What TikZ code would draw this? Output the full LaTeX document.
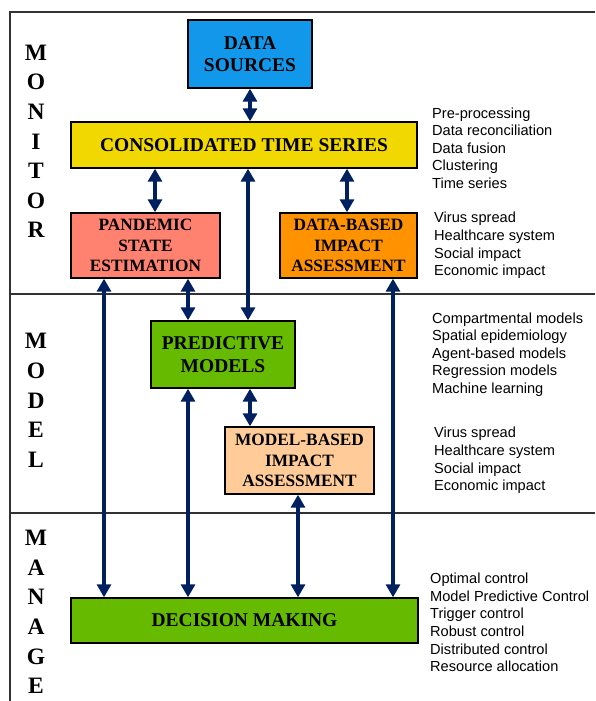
\documentclass[tikz,border=0pt]{standalone}
\usepackage{fontspec}
\setmainfont{Liberation Serif}
\newfontfamily\listfont{Liberation Sans}
\usetikzlibrary{arrows.meta}

\definecolor{sourceblue}{RGB}{17,152,234}
\definecolor{seriesyellow}{RGB}{240,216,0}
\definecolor{statesalmon}{RGB}{255,130,112}
\definecolor{impactorange}{RGB}{255,146,0}
\definecolor{modelgreen}{RGB}{102,187,0}
\definecolor{impactpeach}{RGB}{255,204,153}
\definecolor{linkblue}{RGB}{0,32,96}
\definecolor{framegray}{RGB}{50,50,50}

\begin{document}
\begin{tikzpicture}[x=1pt, y=-1pt,
    box/.style={draw=black, line width=1.4pt, align=center, inner sep=0pt,
        font=\bfseries\fontsize{17.3}{20.5}\selectfont},
    bigbox/.style={box, font=\bfseries\fontsize{19.5}{22}\selectfont},
    link/.style={draw=linkblue, line width=3.2pt,
        {Triangle[width=14pt,length=13pt]}-{Triangle[width=14pt,length=13pt]}},
    phase/.style={align=center, inner sep=0pt,
        font=\bfseries\fontsize{23.5}{29.6}\selectfont},
    items/.style={anchor=west, align=left, inner sep=0pt,
        font=\listfont\fontsize{14.6}{17.6}\selectfont}]
    \useasboundingbox (0,0) rectangle (595,701);

    % frame
    \coordinate (tl) at (10,12);
    \coordinate (tr) at (595,12);
    \coordinate (bl) at (10,701);
    \coordinate (s1l) at (10,294);
    \coordinate (s1r) at (595,294);
    \coordinate (s2l) at (10,513);
    \coordinate (s2r) at (595,513);

    \draw[framegray, line width=1.4pt] (tr) -- (tl) -- (bl);
    \draw[framegray, line width=1.4pt] (s1l) -- (s1r);
    \draw[framegray, line width=1.4pt] (s2l) -- (s2r);

    % phases
    \node[phase] (monitor) at (36,141.5) {M\\O\\N\\I\\T\\O\\R};
    \node[phase] (model) at (36,400.5) {M\\O\\D\\E\\L};
    \node[phase] (manage) at (36,612) {M\\A\\N\\A\\G\\E};

    % boxes
    \node[bigbox, fill=sourceblue, minimum width=124pt, minimum height=68pt] (sources) at (250,54) {DATA\\SOURCES};
    \node[bigbox, fill=seriesyellow, minimum width=346pt, minimum height=46pt] (series) at (244,145) {CONSOLIDATED TIME SERIES};
    \node[box, fill=statesalmon, minimum width=149pt, minimum height=65pt] (state) at (145.5,245.5) {PANDEMIC\\STATE\\ESTIMATION};
    \node[box, fill=impactorange, minimum width=137pt, minimum height=65pt] (dataimpact) at (348.5,245.5) {DATA-BASED\\IMPACT\\ASSESSMENT};
    \node[bigbox, fill=modelgreen, minimum width=144pt, minimum height=67pt,
        font=\bfseries\fontsize{19.5}{23.5}\selectfont] (predict) at (223,354.5) {PREDICTIVE\\MODELS};
    \node[box, fill=impactpeach, minimum width=149pt, minimum height=67pt] (modelimpact) at (299.5,460.5) {MODEL-BASED\\IMPACT\\ASSESSMENT};
    \node[bigbox, fill=modelgreen, minimum width=347pt, minimum height=45pt] (decision) at (244.5,620.5) {DECISION MAKING};

    % columns of the links
    \coordinate (xa) at (104,0);
    \coordinate (xb) at (155,0);
    \coordinate (xc) at (188,0);
    \coordinate (xd) at (248,0);
    \coordinate (xe) at (250,0);
    \coordinate (xf) at (298,0);
    \coordinate (xg) at (347,0);
    \coordinate (xh) at (393,0);

    \draw[link] (sources.south -| xe) -- (series.north -| xe);
    \draw[link] (series.south -| xb) -- (state.north -| xb);
    \draw[link] (series.south -| xg) -- (dataimpact.north -| xg);
    \draw[link] (series.south -| xd) -- (predict.north -| xd);
    \draw[link] (state.south -| xc) -- (predict.north -| xc);
    \draw[link] (predict.south -| xe) -- (modelimpact.north -| xe);
    \draw[link] (state.south -| xa) -- (decision.north -| xa);
    \draw[link] (predict.south -| xc) -- (decision.north -| xc);
    \draw[link] (modelimpact.south -| xf) -- (decision.north -| xf);
    \draw[link] (dataimpact.south -| xh) -- (decision.north -| xh);

    % lists
    \node[items] (serieslist) at (432,148) {Pre-processing\\Data reconciliation\\Data fusion\\Clustering\\Time series};
    \node[items] (datalist) at (434,245.5) {Virus spread\\Healthcare system\\Social impact\\Economic impact};
    \node[items] (predictlist) at (432,354.5) {Compartmental models\\Spatial epidemiology\\Agent-based models\\Regression models\\Machine learning};
    \node[items] (modellist) at (434,460.5) {Virus spread\\Healthcare system\\Social impact\\Economic impact};
    \node[items] (decisionlist) at (430,622.5) {Optimal control\\Model Predictive Control\\Trigger control\\Robust control\\Distributed control\\Resource allocation};
\end{tikzpicture}
\end{document}
